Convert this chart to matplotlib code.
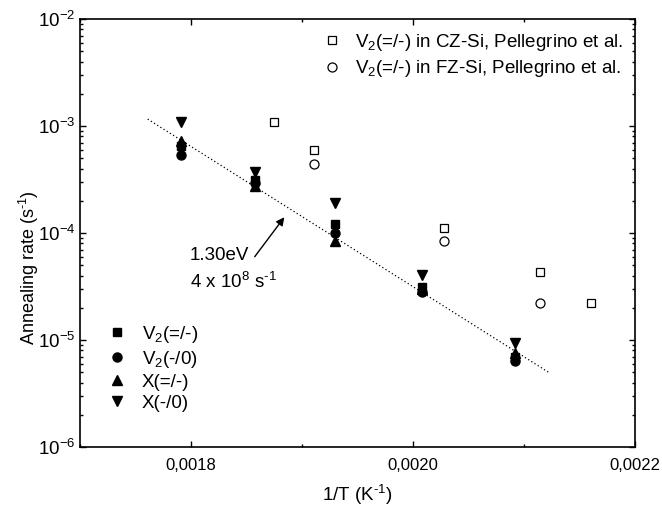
import numpy as np
import matplotlib
matplotlib.use("Agg")
import matplotlib.pyplot as plt
from matplotlib.ticker import FixedLocator, FuncFormatter, LogLocator, NullFormatter

plt.rcParams['font.family'] = ['Liberation Sans', 'DejaVu Sans']
plt.rcParams['mathtext.fontset'] = 'custom'
plt.rcParams['mathtext.rm'] = 'Liberation Sans'
plt.rcParams['mathtext.it'] = 'Liberation Sans:italic'
plt.rcParams['mathtext.bf'] = 'Liberation Sans:bold'

# ---- data ----
invT = [0.001791, 0.001858, 0.001930, 0.002008, 0.002092]
V2_mm = [6.5e-4, 3.1e-4, 1.2e-4, 3.1e-5, 6.9e-6]     # V2(=/-)
V2_m0 = [5.3e-4, 2.9e-4, 1.0e-4, 2.8e-5, 6.4e-6]     # V2(-/0)
X_mm = [7.3e-4, 2.75e-4, 8.4e-5, 3.0e-5, 7.6e-6]     # X(=/-)
X_m0 = [1.1e-3, 3.7e-4, 1.9e-4, 4.05e-5, 9.4e-6]     # X(-/0)

cz_invT = [0.001875, 0.001911, 0.002028, 0.002114, 0.002160]
cz_rate = [1.09e-3, 6.0e-4, 1.11e-4, 4.3e-5, 2.2e-5]
fz_invT = [0.001911, 0.002028, 0.002114]
fz_rate = [4.4e-4, 8.4e-5, 2.2e-5]

x_ticks = [0.0018, 0.0020, 0.0022]

Ea = 1.30          # eV
nu = 4e8           # s^-1
kB = 8.617e-5      # eV/K
fit_range = [0.001761, 0.002122]

fig = plt.figure(figsize=(6.62, 5.12), dpi=100)
ax = fig.add_axes([0.1208, 0.127, 0.8384, 0.836])

fs = 13.5
ms_f = 6.5
h1, = ax.plot(invT, V2_mm, 's', color='black', ms=ms_f*0.95, ls='none', label=r'V$_\mathregular{2}$(=/-)')
h2, = ax.plot(invT, V2_m0, 'o', color='black', ms=ms_f, ls='none', label=r'V$_\mathregular{2}$(-/0)')
h3, = ax.plot(invT, X_mm, '^', color='black', ms=ms_f+0.5, ls='none', label='X(=/-)')
h4, = ax.plot(invT, X_m0, 'v', color='black', ms=ms_f+0.5, ls='none', label='X(-/0)')

h5, = ax.plot(cz_invT, cz_rate, 's', mfc='white', mec='black', mew=0.9, ms=6, ls='none',
              label=r'V$_\mathregular{2}$(=/-) in CZ-Si, Pellegrino et al.')
h6, = ax.plot(fz_invT, fz_rate, 'o', mfc='white', mec='black', mew=0.9, ms=6.5, ls='none',
              label=r'V$_\mathregular{2}$(=/-) in FZ-Si, Pellegrino et al.')

xf = np.linspace(fit_range[0], fit_range[1], 200)
ax.plot(xf, nu*np.exp(-Ea*xf/kB), color='black', lw=0.9, ls=(0, (1, 2)))

ax.set_yscale('log')
ax.set_xlim(0.0017, 0.0022)
ax.set_ylim(1e-6, 1e-2)

ax.xaxis.set_major_locator(FixedLocator(x_ticks))
ax.xaxis.set_minor_locator(FixedLocator([0.0017, 0.0019, 0.0021]))
ax.xaxis.set_major_formatter(FuncFormatter(lambda v, p: ('%.4f' % v).replace('.', ',')))
ax.yaxis.set_major_locator(LogLocator(base=10, numticks=10))
ax.yaxis.set_minor_locator(LogLocator(base=10, subs=np.arange(2, 10), numticks=20))
ax.yaxis.set_minor_formatter(NullFormatter())

ax.tick_params(which='both', direction='in', top=True, right=True, width=1.0)
ax.tick_params(which='major', length=4)
ax.tick_params(which='minor', length=2.3)
ax.tick_params(axis='y', labelsize=fs, pad=3)
ax.tick_params(axis='x', labelsize=12, pad=8)
for s in ax.spines.values():
    s.set_linewidth(1.2)

ax.set_xlabel(r'1/T (K$^{\mathregular{\text{-}1}}$)', fontsize=fs, labelpad=7)
ax.set_ylabel(r'Annealing rate (s$^{\mathregular{\text{-}1}}$)', fontsize=13)
ax.yaxis.set_label_coords(-0.07, 0.42)

ax.annotate('', xy=(0.0018856, 10**-3.832), xytext=(0.0018559, 10**-4.243),
            xycoords='data', textcoords='data',
            arrowprops=dict(arrowstyle='-|>', color='black', lw=1.0, mutation_scale=12))
ax.text(0.001799, 10**-4.206, '1.30eV', fontsize=fs, ha='left', va='center')
ax.text(0.001799, 10**-4.458, r'4 x 10$^{8}$ s$^{\mathregular{\text{-}1}}$', fontsize=fs, ha='left', va='center')

leg1 = ax.legend(handles=[h1, h2, h3, h4], loc='center left', bbox_to_anchor=(0.0497, 0.185),
                 frameon=False, fontsize=fs, handletextpad=0.83, labelspacing=0.2,
                 handlelength=1.0, borderaxespad=0.0, borderpad=0.0)
ax.add_artist(leg1)
ax.legend(handles=[h5, h6], loc='center left', bbox_to_anchor=(0.437, 0.9147),
          frameon=False, fontsize=fs, handletextpad=0.73, labelspacing=0.3,
          handlelength=1.0, borderaxespad=0.0, borderpad=0.0)

fig.savefig('out.png', dpi=100)
